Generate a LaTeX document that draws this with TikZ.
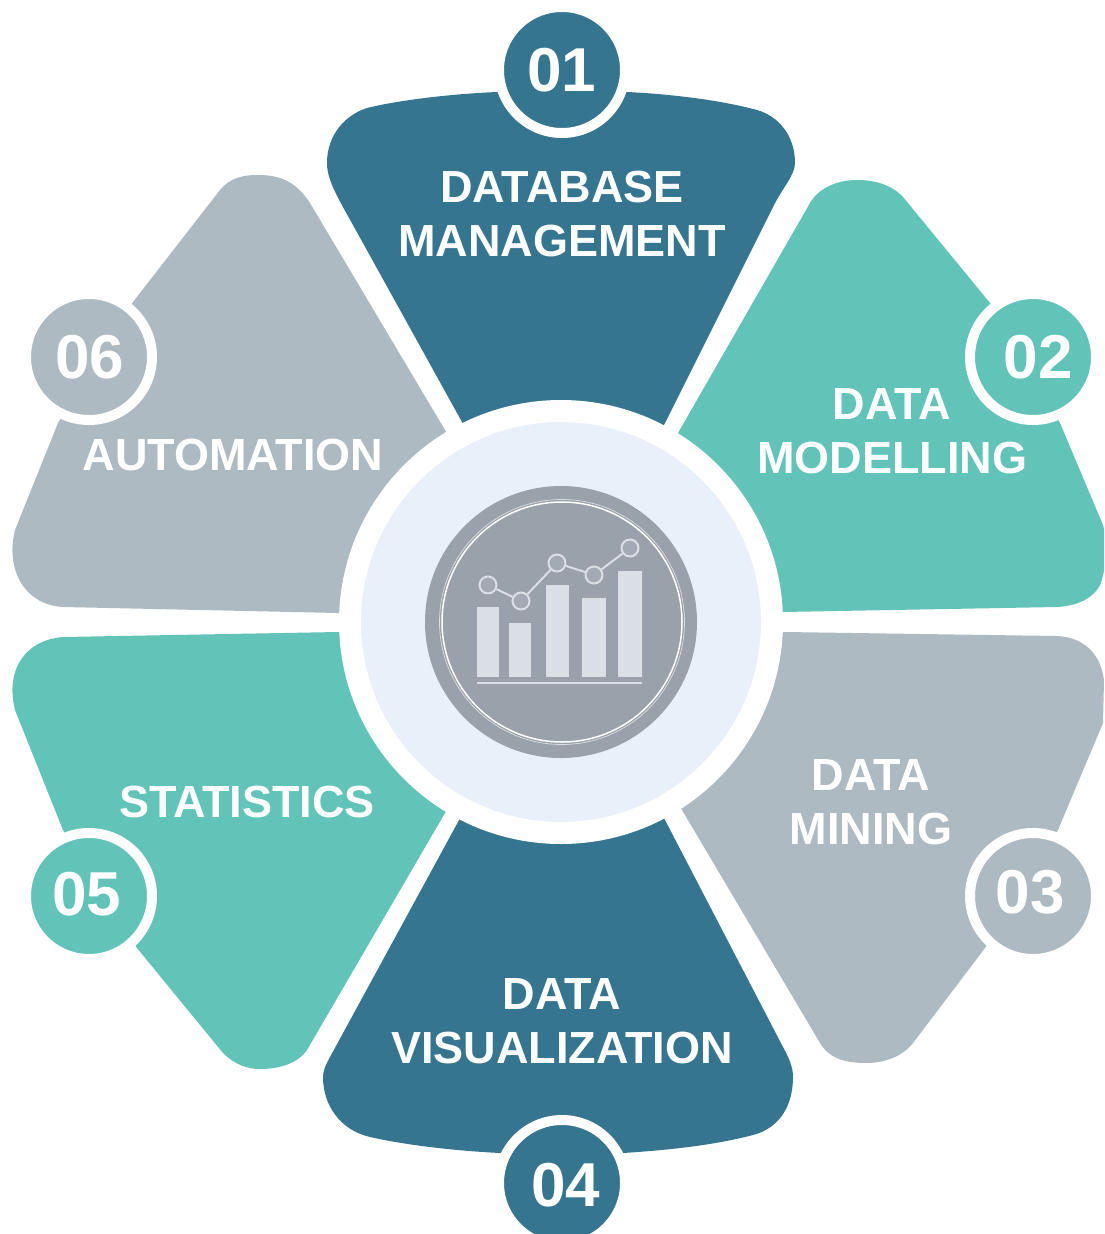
\documentclass[tikz,border=0pt]{standalone}
\usepackage{fontspec}
\setmainfont{Liberation Sans}
\definecolor{petrol}{HTML}{36758F}
\definecolor{teal1}{HTML}{62C4B8}
\definecolor{ash}{HTML}{AEBAC1}
\definecolor{hubfill}{HTML}{EAF0F9}
\definecolor{dialfill}{HTML}{9BA1AA}
\definecolor{barfill}{HTML}{DADEE5}
\tikzset{
    numdisc/.style={circle,draw=white,line width=10pt,minimum size=126pt,inner sep=0pt},
    numtext/.style={text=white,inner sep=0pt,font=\bfseries\fontsize{62}{62}\selectfont},
    seglabel/.style={text=white,align=center,inner sep=0pt,font=\bfseries\fontsize{45}{54}\selectfont},
    dot/.style={circle,draw=barfill,line width=2pt,fill=dialfill!85!barfill,minimum size=17pt,inner sep=0pt},
    link/.style={barfill,line width=2pt}
}
\begin{document}
\begin{tikzpicture}[x=1pt,y=-1pt]
        \clip (0,0) rectangle (1104,1234);
        \fill[white] (0,0) rectangle (1104,1234);

        % Segments
        \fill[petrol] (561,622) -- (462,422) -- (343,207) .. controls (332,187) and (327,175) .. (327,163) .. controls (327,135) and (345,115) .. (367,108) .. controls (400,100) and (450,94) .. (497,92) -- (627,92) .. controls (670,94) and (720,100) .. (757,110) .. controls (778,116) and (795,135) .. (795,163) .. controls (795,175) and (783,187) .. (773,207) -- (665,423) -- cycle;
        \fill[teal1] (561,622) -- (678,433) -- (810,203) .. controls (820,186) and (840,180) .. (857,180) .. controls (875,180) and (892,185) .. (903,197) -- (990,303) -- (1060,423) -- (1103,525) .. controls (1108,545) and (1106,570) .. (1100,585) .. controls (1092,600) and (1075,606) .. (1057,607) -- (783,612) -- cycle;
        \fill[ash] (561,622) -- (785,632) -- (1057,636) .. controls (1080,637) and (1100,650) .. (1104,680) -- (1103,723) -- (1058,830) -- (985,948) -- (913,1043) .. controls (903,1056) and (885,1063) .. (867,1063) .. controls (848,1063) and (830,1060) .. (820,1043) -- (682,810) -- cycle;
        \fill[petrol] (561,622) -- (458,822) -- (330,1057) .. controls (325,1066) and (323,1072) .. (323,1077) .. controls (323,1105) and (340,1130) .. (370,1137) .. controls (410,1146) and (460,1151) .. (500,1153) -- (623,1153) .. controls (670,1150) and (715,1145) .. (753,1135) .. controls (780,1128) and (793,1105) .. (793,1077) .. controls (793,1067) and (789,1058) .. (783,1047) -- (665,820) -- cycle;
        \fill[teal1] (561,622) -- (445,813) -- (307,1050) .. controls (298,1063) and (280,1069) .. (260,1069) .. controls (248,1069) and (235,1065) .. (223,1053) -- (137,948) -- (63,830) -- (15,710) .. controls (5,670) and (25,640) .. (63,637) -- (338,632) -- cycle;
        \fill[ash] (561,622) -- (445,430) -- (310,203) .. controls (295,180) and (278,175) .. (258,175) .. controls (242,175) and (230,178) .. (220,190) -- (133,302) -- (58,423) -- (15,530) .. controls (5,570) and (25,605) .. (63,607) -- (338,613) -- cycle;

        % Hub
        \node[circle,draw=white,line width=22pt,fill=hubfill,minimum size=422pt,inner sep=0pt] (hub) at (561,622) {};
        \node[circle,fill=dialfill,minimum size=272pt,inner sep=0pt] (dial) at (561,622) {};
        \node[circle,draw=barfill,line width=0.7pt,minimum size=245pt,inner sep=0pt] (ringa) at (562,622) {};
        \node[circle,draw=white,line width=1.5pt,minimum size=240pt,inner sep=0pt] (ringb) at (562,622) {};

        % Chart
        \foreach \xa/\xb/\ytop in {477/499/607, 509/531/623, 546/569/585, 582/606/598, 618/642/571} {
            \fill[barfill] (\xa,\ytop) rectangle (\xb,677);
        }
        \fill[barfill] (477,682) rectangle (642,684);
        \foreach \n/\x/\y in {a/488/585, b/521/601, c/557/563, d/594/575, e/630/548} {
            \node[dot] (pt\n) at (\x,\y) {};
        }
        \draw[link] (pta) -- (ptb);
        \draw[link] (ptb) -- (ptc);
        \draw[link] (ptc) -- (ptd);
        \draw[link] (ptd) -- (pte);

        % Number discs
        \foreach \n/\x/\y/\col in {1/562/70/petrol, 2/1033/357/teal1, 3/1033/896/ash, 4/562/1183/petrol, 5/89/896/teal1, 6/89/357/ash} {
            \node[numdisc,fill=\col] (disc\n) at (\x,\y) {};
        }
        \node[numtext] (num1) at (562,70) {01};
        \node[numtext] (num2) at (1038,357) {02};
        \node[numtext] (num3) at (1030,892) {03};
        \node[numtext] (num4) at (566,1185) {04};
        \node[numtext] (num5) at (87,894) {05};
        \node[numtext] (num6) at (90,357) {06};

        % Labels
        \node[seglabel] (lab1) at (562,214) {DATABASE\\MANAGEMENT};
        \node[seglabel] (lab2) at (892,431) {DATA\\MODELLING};
        \node[seglabel] (lab3) at (871,802) {DATA\\MINING};
        \node[seglabel] (lab4) at (562,1021) {DATA\\VISUALIZATION};
        \node[seglabel] (lab5) at (247,802) {STATISTICS};
        \node[seglabel] (lab6) at (233,455) {AUTOMATION};
\end{tikzpicture}
\end{document}
